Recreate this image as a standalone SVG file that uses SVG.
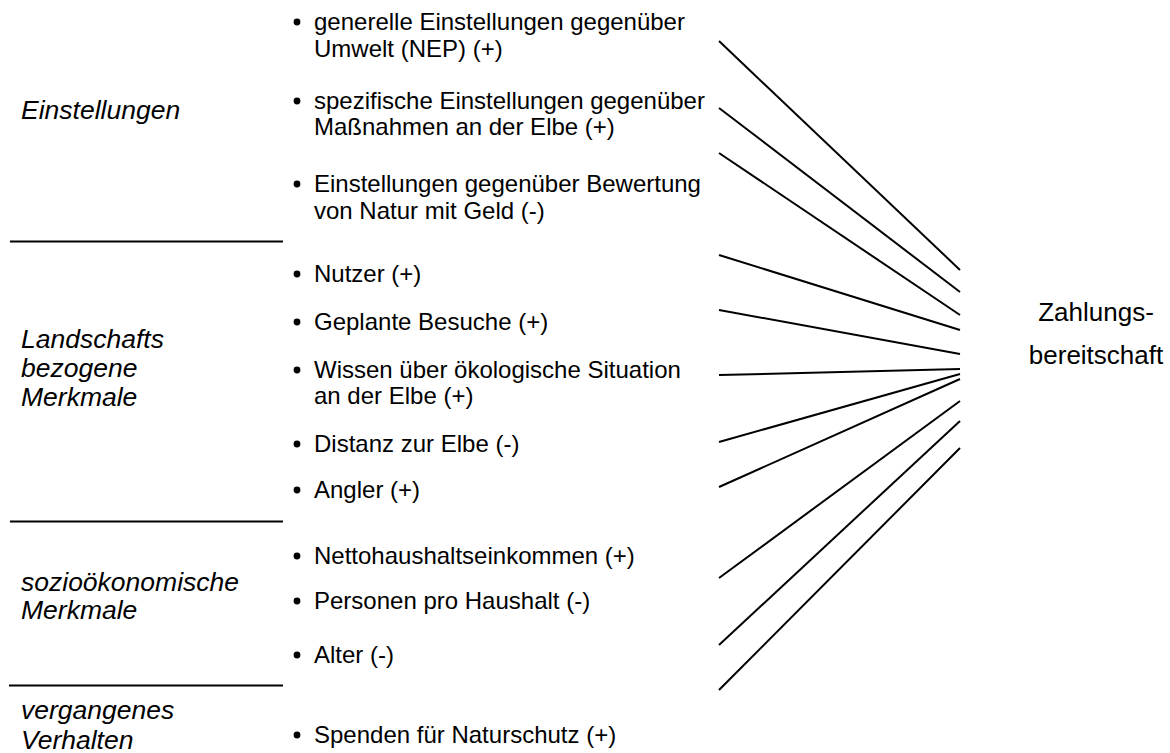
<svg xmlns="http://www.w3.org/2000/svg" width="1170" height="753" viewBox="0 0 1170 753">
<style>
text{font-family:"Liberation Sans",Arial,sans-serif;fill:#000}
.item{font-size:24px}
.lab{font-size:26.5px;font-style:italic}
.tgt{font-size:26px}
.bul{fill:#000}
line{stroke:#000;stroke-width:2}
</style>
<rect width="1170" height="753" fill="#fff"/>
<g id="rules">
<line x1="10" y1="241.5" x2="283" y2="241.5"/>
<line x1="10" y1="521.5" x2="283" y2="521.5"/>
<line x1="9" y1="685.5" x2="283" y2="685.5"/>
</g>
<g id="group-einstellungen">
<text class="lab" x="21" y="119">Einstellungen</text>
</g>
<g id="group-landschaft">
<text class="lab" x="21" y="348">Landschafts</text>
<text class="lab" x="21" y="377">bezogene</text>
<text class="lab" x="21" y="406">Merkmale</text>
</g>
<g id="group-sozio">
<text class="lab" x="21" y="591">sozioökonomische</text>
<text class="lab" x="21" y="619">Merkmale</text>
</g>
<g id="group-verhalten">
<text class="lab" x="21" y="719">vergangenes</text>
<text class="lab" x="21" y="749">Verhalten</text>
</g>
<g id="item-nep"><circle class="bul" cx="297" cy="22" r="3.4"/><text class="item" x="314" y="30">generelle Einstellungen gegenüber</text><text class="item" x="314" y="57">Umwelt (NEP) (+)</text></g>
<g id="item-spez"><circle class="bul" cx="297" cy="101" r="3.4"/><text class="item" x="314" y="109">spezifische Einstellungen gegenüber</text><text class="item" x="314" y="135">Maßnahmen an der Elbe (+)</text></g>
<g id="item-geld"><circle class="bul" cx="297" cy="184" r="3.4"/><text class="item" x="314" y="192">Einstellungen gegenüber Bewertung</text><text class="item" x="314" y="219">von Natur mit Geld (-)</text></g>
<g id="item-nutzer"><circle class="bul" cx="297" cy="274" r="3.4"/><text class="item" x="314" y="282">Nutzer (+)</text></g>
<g id="item-besuche"><circle class="bul" cx="297" cy="322" r="3.4"/><text class="item" x="314" y="330">Geplante Besuche (+)</text></g>
<g id="item-wissen"><circle class="bul" cx="297" cy="370" r="3.4"/><text class="item" x="314" y="378">Wissen über ökologische Situation</text><text class="item" x="314" y="404">an der Elbe (+)</text></g>
<g id="item-distanz"><circle class="bul" cx="297" cy="444" r="3.4"/><text class="item" x="314" y="452">Distanz zur Elbe (-)</text></g>
<g id="item-angler"><circle class="bul" cx="297" cy="490" r="3.4"/><text class="item" x="314" y="498">Angler (+)</text></g>
<g id="item-einkommen"><circle class="bul" cx="297" cy="556" r="3.4"/><text class="item" x="314" y="564">Nettohaushaltseinkommen (+)</text></g>
<g id="item-personen"><circle class="bul" cx="297" cy="601" r="3.4"/><text class="item" x="314" y="609">Personen pro Haushalt (-)</text></g>
<g id="item-alter"><circle class="bul" cx="297" cy="655" r="3.4"/><text class="item" x="314" y="663">Alter (-)</text></g>
<g id="item-spenden"><circle class="bul" cx="297" cy="735" r="3.4"/><text class="item" x="314" y="743">Spenden für Naturschutz (+)</text></g>
<g id="target">
<text class="tgt" x="1096" y="321" text-anchor="middle">Zahlungs-</text>
<text class="tgt" x="1096" y="364" text-anchor="middle">bereitschaft</text>
</g>
<g id="connectors">
<line x1="719" y1="41" x2="960" y2="270"/>
<line x1="719" y1="108" x2="960" y2="292"/>
<line x1="719" y1="153" x2="960" y2="315"/>
<line x1="719" y1="255" x2="960" y2="330"/>
<line x1="719" y1="310" x2="960" y2="354"/>
<line x1="719" y1="375" x2="960" y2="369"/>
<line x1="719" y1="442" x2="960" y2="374"/>
<line x1="719" y1="487" x2="960" y2="379"/>
<line x1="719" y1="578" x2="960" y2="401"/>
<line x1="719" y1="645" x2="960" y2="421"/>
<line x1="719" y1="690" x2="960" y2="448"/>
</g>
</svg>
